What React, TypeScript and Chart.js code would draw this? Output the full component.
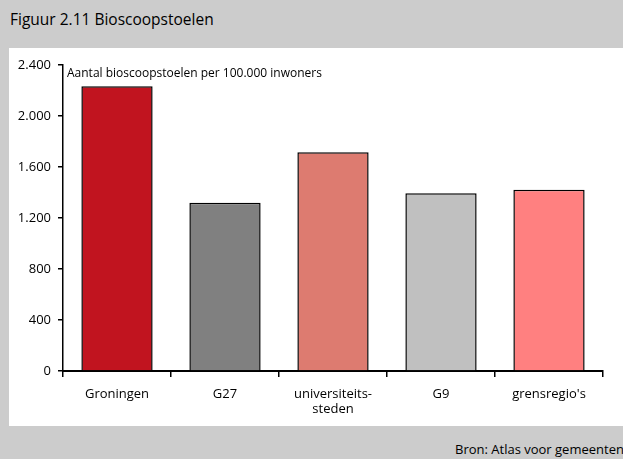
import React, { useEffect, useRef } from "react";
import { Chart, registerables } from "chart.js";

Chart.register(...registerables);

const categories: (string | string[])[] = ["Groningen", "G27", ["universiteits-", "steden"], "G9", "grensregio's"];
const values = [2233, 1319, 1715, 1394, 1421];
const barColors = ["#C1141F", "#808080", "#DD7B70", "#C0C0C0", "#FF8080"];
const yTicks = [0, 400, 800, 1200, 1600, 2000, 2400];
const titleText = "Figuur 2.11 Bioscoopstoelen";
const subtitleText = "Aantal bioscoopstoelen per 100.000 inwoners";
const sourceText = "Bron: Atlas voor gemeenten";

const FONT = "'Open Sans', 'Noto Sans', sans-serif";

export default function App() {
  const ref = useRef<HTMLCanvasElement | null>(null);
  useEffect(() => {
    if (!ref.current) return;
    const annot = {
      id: "annot",
      afterDraw(chart: any) {
        const { ctx, chartArea } = chart;
        ctx.save();
        ctx.font = `12px ${FONT}`;
        ctx.fillStyle = "#000";
        ctx.textBaseline = "middle";
        ctx.fillText(subtitleText, chartArea.left + 4, chartArea.top + 9);
        ctx.restore();
      },
    };
    const chart = new Chart(ref.current, {
      type: "bar",
      data: {
        labels: categories,
        datasets: [
          {
            data: values,
            backgroundColor: barColors,
            borderColor: "#000",
            borderWidth: 1.5,
            barPercentage: 0.66,
            categoryPercentage: 1,
          },
        ],
      },
      plugins: [annot],
      options: {
        animation: false,
        responsive: false,
        layout: { padding: { top: 17, right: 20, bottom: 0, left: 0 } },
        plugins: { legend: { display: false }, tooltip: { enabled: false }, title: { display: false } },
        scales: {
          x: {
            offset: true,
            grid: { display: true, offset: true, drawOnChartArea: false, color: "#000", lineWidth: 1.5, tickLength: 6 },
            border: { display: true, color: "#000", width: 2 },
            ticks: { color: "#000", font: { family: FONT, size: 13 }, padding: 9, maxRotation: 0, autoSkip: false },
            afterFit: (s: any) => { s.height = 55; },
          },
          y: {
            min: 0,
            max: 2400,
            afterBuildTicks: (s: any) => { s.ticks = yTicks.map((v) => ({ value: v })); },
            grid: { display: true, drawOnChartArea: false, color: "#000", lineWidth: 1.5, tickLength: 5 },
            border: { display: true, color: "#000", width: 1.5 },
            ticks: {
              color: "#000",
              font: { family: FONT, size: 13 },
              padding: 7,
              callback: (v: any) => Number(v).toLocaleString("de-DE"),
            },
            afterFit: (s: any) => { s.width = 54; },
          },
        },
      },
    });
    return () => chart.destroy();
  }, []);

  return (
    <div style={{ position: "absolute", left: 0, top: 0, width: 623, height: 459, background: "#CCCCCC", overflow: "hidden", fontFamily: FONT }}>
      <div style={{ position: "absolute", left: 10, top: 8, fontSize: 15.5, color: "#000", whiteSpace: "nowrap" }}>{titleText}</div>
      <div style={{ position: "absolute", left: 9, top: 48, width: 614, height: 378, background: "#FFFFFF" }}>
        <canvas ref={ref} width={614} height={378} style={{ display: "block" }} />
      </div>
      <div style={{ position: "absolute", left: 455, top: 440, fontSize: 13, color: "#000", whiteSpace: "nowrap" }}>{sourceText}</div>
    </div>
  );
}
